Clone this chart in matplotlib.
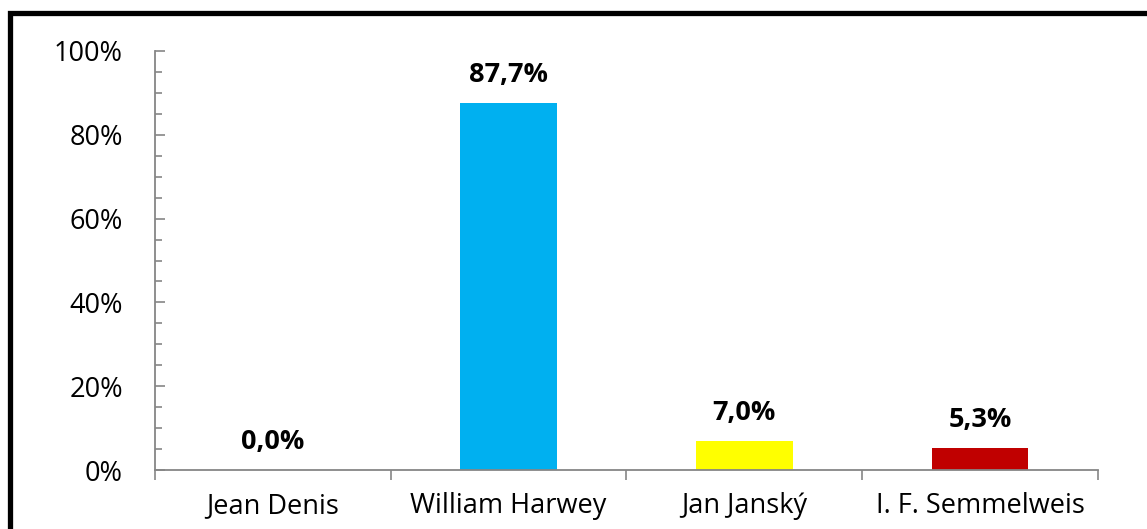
import matplotlib.pyplot as plt
from matplotlib.lines import Line2D
from matplotlib.ticker import MultipleLocator, FixedLocator

plt.rcParams['font.family'] = ['Open Sans', 'DejaVu Sans']

# data
categories = ['Jean Denis', 'William Harwey', 'Jan Janský', 'I. F. Semmelweis']
values = [0.0, 87.7, 7.0, 5.3]
labels = ['0,0%', '87,7%', '7,0%', '5,3%']
colors = ['#4F81BD', '#00B0F0', '#FFFF00', '#C00000']

axis_gray = '#868686'
fs = 19.5

fig = plt.figure(figsize=(11.47, 5.29), dpi=100)
ax = fig.add_axes([0.1351, 0.1115, 0.8222, 0.7921])

x = range(len(categories))
bars = ax.bar(x, values, width=0.41, color=colors, zorder=2)

for b, lab in zip(bars, labels):
    ax.annotate(lab, (b.get_x() + b.get_width() / 2, b.get_height()),
                xytext=(0, 10.5), textcoords='offset points',
                ha='center', va='bottom', fontsize=fs, fontweight='bold')

ax.set_xlim(-0.5, len(categories) - 0.5)
ax.set_ylim(0, 100)

# y axis: major every 20, minor every 5, ticks inside
ax.yaxis.set_major_locator(MultipleLocator(20))
ax.yaxis.set_minor_locator(MultipleLocator(5))
ax.set_yticklabels([f'{int(v)}%' for v in ax.get_yticks()])
ax.tick_params(axis='y', which='major', direction='in', length=7, width=1.2,
               color=axis_gray, labelsize=fs, pad=23)
ax.tick_params(axis='y', which='minor', direction='in', length=5, width=1.2,
               color=axis_gray)

# x axis: labels at centers, ticks at category boundaries
ax.set_xticks(list(x))
ax.set_xticklabels(categories)
ax.xaxis.set_minor_locator(FixedLocator([i - 0.5 for i in range(len(categories) + 1)]))
ax.tick_params(axis='x', which='major', length=0, labelsize=fs, pad=16)
ax.tick_params(axis='x', which='minor', direction='out', length=7, width=1.2,
               color=axis_gray)

for side in ['top', 'right']:
    ax.spines[side].set_visible(False)
for side in ['left', 'bottom']:
    ax.spines[side].set_color(axis_gray)
    ax.spines[side].set_linewidth(1.3)

# outer frame (only top and left visible in the crop)
frame = Line2D([0.00915, 0.00915, 1.0], [0.0, 0.9745, 0.9745],
               transform=fig.transFigure, color='black', linewidth=3.8,
               solid_joinstyle='miter')
fig.add_artist(frame)

fig.savefig('out.png', dpi=100, facecolor='white')
